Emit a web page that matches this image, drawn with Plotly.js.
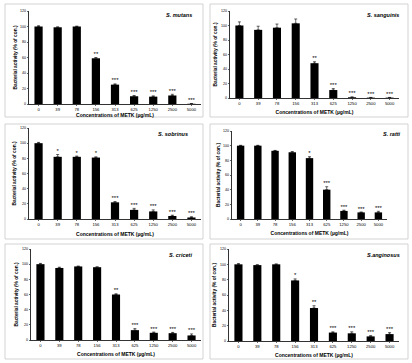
<!DOCTYPE html>
<html><head><meta charset="utf-8">
<script src="https://cdn.plot.ly/plotly-3.0.1.min.js"></script>
<style>html,body{margin:0;padding:0;background:#fff}</style>
</head><body>
<div id="chart" style="width:412px;height:363px"></div>
<script>
// ---- data ----
const doses = ["0","39","78","156","313","625","1250","2500","5000"];
const yTicks = [0,20,40,60,80,100,120];

const mutansVal = [100, 99, 100, 59, 25, 10, 9.5, 11, 0.3];
const mutansErr = [1, 0.5, 0.5, 1, 1, 1, 1, 1.5, 0.3];
const mutansSig = ["", "", "", "**", "***", "***", "***", "***", "***"];

const sanguinisVal = [100, 94, 97, 103, 48, 11, 1, 0.5, 0.5];
const sanguinisErr = [5, 5, 5, 6, 2, 2, 0.5, 0.3, 0.3];
const sanguinisSig = ["", "", "", "", "**", "***", "***", "***", "***"];

const sobrinusVal = [100, 82, 82, 81, 22, 12, 10, 4, 2];
const sobrinusErr = [1, 3, 1, 1, 1, 2, 2, 1, 1];
const sobrinusSig = ["", "*", "*", "*", "***", "***", "***", "***", "***"];

const rattiVal = [100, 100, 93, 91, 83, 40, 11, 9, 9];
const rattiErr = [0.5, 0.5, 0.5, 1, 2, 4, 1, 0.5, 1.5];
const rattiSig = ["", "", "", "", "*", "***", "***", "***", "***"];

const cricetiVal = [100, 95, 97, 96, 60, 13, 9.5, 9, 6];
const cricetiErr = [1, 1, 0.5, 0.5, 1, 2, 1, 1, 2];
const cricetiSig = ["", "", "", "", "**", "***", "***", "***", "***"];

const anginosusVal = [100, 99, 100, 79, 43, 11, 10, 6, 9];
const anginosusErr = [1, 0.5, 0.5, 2, 3, 1, 2, 1, 2];
const anginosusSig = ["", "", "", "*", "**", "***", "***", "***", "***"];

const speciesNames = ["S. mutans", "S. sanguinis", "S. sobrinus", "S. ratti", "S. criceti", "S.anginosus"];
const xTitle = "Concentrations of METK (\u00b5g/mL)";
const yTitle = "Bacterial activity (% of con.)";

// ---- layout geometry (pixels) ----
const W = 412, H = 363;
const panels = [
  {name: speciesNames[0], v: mutansVal, e: mutansErr, s: mutansSig,
   px: [29, 201], py: [11, 104], frame: [5, 4, 203, 117], lab: [194, 15], xs: 1, ys: 2},
  {name: speciesNames[1], v: sanguinisVal, e: sanguinisErr, s: sanguinisSig,
   px: [230, 399], py: [11, 98], frame: [210, 4, 408, 117], lab: [401, 15], xs: 5, ys: 3},
  {name: speciesNames[2], v: sobrinusVal, e: sobrinusErr, s: sobrinusSig,
   px: [29, 201], py: [128, 219], frame: [5, 124, 203, 239], lab: [190, 134], xs: 6, ys: 3},
  {name: speciesNames[3], v: rattiVal, e: rattiErr, s: rattiSig,
   px: [232, 387], py: [131, 219], frame: [210, 124, 408, 239], lab: [403, 134], xs: 5, ys: 2},
  {name: speciesNames[4], v: cricetiVal, e: cricetiErr, s: cricetiSig,
   px: [31, 201], py: [249, 340], frame: [5, 244, 203, 359], lab: [194, 255], xs: 5, ys: 3},
  {name: speciesNames[5], v: anginosusVal, e: anginosusErr, s: anginosusSig,
   px: [229, 399], py: [249, 341], frame: [210, 244, 408, 359], lab: [402, 255], xs: 5, ys: 3}
];

const FONT = "Liberation Sans, Arial, sans-serif";
const traces = [];
const layout = {
  width: W, height: H,
  margin: {l: 0, r: 0, t: 0, b: 0},
  paper_bgcolor: "#fff", plot_bgcolor: "#fff",
  showlegend: false,
  bargap: 0.57,
  font: {family: FONT, color: "#000", size: 4},
  shapes: [], annotations: []
};

panels.forEach((p, i) => {
  const n = i + 1;
  const xa = n === 1 ? "x" : "x" + n;
  const ya = n === 1 ? "y" : "y" + n;
  traces.push({
    type: "bar", x: doses, y: p.v, xaxis: xa, yaxis: ya,
    marker: {color: "#000"},
    error_y: {type: "data", array: p.e, arrayminus: p.e.map(() => 0), symmetric: false,
              color: "#000", thickness: 0.6, width: 1.5},
    hoverinfo: "skip"
  });
  traces.push({
    type: "scatter", mode: "text", x: doses, y: p.v.map((v, k) => v + p.e[k]),
    text: p.s, textposition: "top center",
    textfont: {family: FONT, size: 6, color: "#000"},
    xaxis: xa, yaxis: ya, hoverinfo: "skip", cliponaxis: false
  });
  layout["xaxis" + (n === 1 ? "" : n)] = {
    domain: [p.px[0] / W, p.px[1] / W], anchor: ya,
    type: "category", range: [-0.5, 8.5], fixedrange: true,
    showline: true, linecolor: "#000", linewidth: 0.8, mirror: false,
    ticks: "outside", ticklen: 1.5, tickwidth: 0.6, tickcolor: "#000",
    tickfont: {family: FONT, size: 4.2, color: "#000"},
    showgrid: false, zeroline: false,
    title: {text: "<b>" + xTitle + "</b>", font: {family: FONT, size: 5, color: "#000"}, standoff: p.xs}
  };
  layout["yaxis" + (n === 1 ? "" : n)] = {
    domain: [1 - p.py[1] / H, 1 - p.py[0] / H], anchor: xa,
    range: [0, 120], tickvals: yTicks, fixedrange: true,
    showline: true, linecolor: "#000", linewidth: 0.8,
    ticks: "outside", ticklen: 1.5, tickwidth: 0.6, tickcolor: "#000",
    tickfont: {family: FONT, size: 3.6, color: "#000"},
    showgrid: false, zeroline: false,
    title: {text: "<b>" + yTitle + "</b>", font: {family: FONT, size: 4.8, color: "#000"}, standoff: p.ys}
  };
  layout.shapes.push({
    type: "rect", xref: "paper", yref: "paper",
    x0: p.frame[0] / W, x1: p.frame[2] / W, y0: 1 - p.frame[3] / H, y1: 1 - p.frame[1] / H,
    line: {color: "#c8c8c8", width: 0.8}, fillcolor: "rgba(0,0,0,0)", layer: "below"
  });
  layout.annotations.push({
    xref: "paper", yref: "paper", x: p.lab[0] / W, y: 1 - p.lab[1] / H,
    xanchor: "right", yanchor: "middle", showarrow: false,
    text: "<b><i>" + p.name + "</i></b>",
    font: {family: FONT, size: 5.5, color: "#000"}
  });
});

Plotly.newPlot("chart", traces, layout, {staticPlot: true, displayModeBar: false});
</script>
</body></html>
